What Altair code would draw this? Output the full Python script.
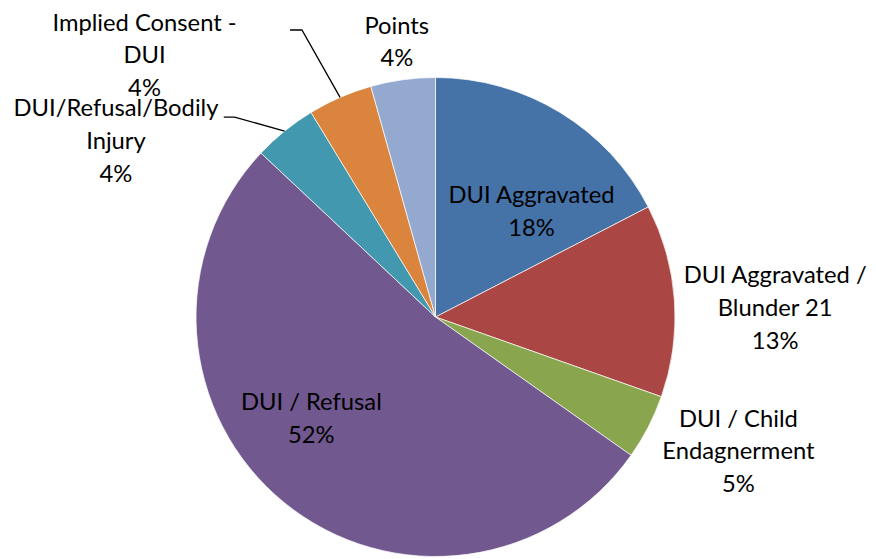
import math
import altair as alt
import pandas as pd

# ---- data ----
categories = [
    "DUI Aggravated",
    "DUI Aggravated /\nBlunder 21",
    "DUI / Child\nEndagnerment",
    "DUI / Refusal",
    "DUI/Refusal/Bodily\nInjury",
    "Implied Consent -\nDUI",
    "Points",
]
shares = [17.4, 13.0, 4.4, 52.2, 4.3, 4.35, 4.35]
pct_labels = ["18%", "13%", "5%", "52%", "4%", "4%", "4%"]
colors = ["#4572A7", "#AA4643", "#89A54E", "#71588F", "#4198AF", "#DB843D", "#93A9CF"]

# ---- layout ----
W, H = 864, 618
R = 242
FONT = "Lato"
FS = 24
LH = 33
# per label: (radius, dx, dy)
label_layout = [
    (150, 19, 6),
    (335, 9, -18),
    (330, 13, -48),
    (162, -23, -38),
    (368, -91, 76),
    (394, -137, 65),
    (280, -1, -16),
]
# leader lines: label index -> (elbow, end) offsets from pie centre
leaders = {
    4: ((-203, -202), (-214, -202)),
    5: ((-135, -290), (-147, -290)),
}

df = pd.DataFrame({"cat": categories, "share": shares, "idx": list(range(len(categories)))})
df["label"] = [c + "\n" + p for c, p in zip(categories, pct_labels)]

theta_scale = alt.Scale(domain=[0, sum(shares)])

arc = alt.Chart(df).mark_arc(outerRadius=R, stroke="white", strokeWidth=0.7).encode(
    theta=alt.Theta("share:Q", stack=True, scale=theta_scale),
    order=alt.Order("idx:Q"),
    color=alt.Color("cat:N", scale=alt.Scale(domain=categories, range=colors), legend=None),
)

texts = []
for i, (r, dx, dy) in enumerate(label_layout):
    t = (
        alt.Chart(df)
        .transform_window(cum="sum(share)", sort=[alt.SortField("idx")], frame=[None, 0])
        .transform_calculate(mid="datum.cum - datum.share / 2")
        .transform_filter(f"datum.idx == {i}")
        .mark_text(
            font=FONT, fontSize=FS, lineBreak="\n", lineHeight=LH,
            align="center", baseline="middle", radius=r, dx=dx, dy=dy, color="black",
        )
        .encode(theta=alt.Theta("mid:Q", stack=False, scale=theta_scale), text="label:N")
    )
    texts.append(t)

# leader lines from slice edge (mid angle) to label
total = sum(shares)
rows = []
cum = 0
for i, s in enumerate(shares):
    mid = (cum + s / 2) / total * 2 * math.pi
    cum += s
    if i in leaders:
        elbow, end = leaders[i]
        pts = [
            (W / 2 + R * math.sin(mid), H / 2 - R * math.cos(mid)),
            (W / 2 + elbow[0], H / 2 + elbow[1]),
            (W / 2 + end[0], H / 2 + end[1]),
        ]
        for o, (x, y) in enumerate(pts):
            rows.append({"seg": i, "o": o, "x": x, "y": y})
lead_df = pd.DataFrame(rows)

lead = alt.Chart(lead_df).mark_line(color="black", strokeWidth=1.3).encode(
    x=alt.X("x:Q", scale=None, axis=None),
    y=alt.Y("y:Q", scale=None, axis=None),
    detail="seg:N",
    order="o:Q",
)

chart = (
    alt.layer(arc, *texts, lead)
    .properties(width=W, height=H, padding=0, background="white")
    .configure_view(stroke=None)
)
chart.save("out.html", embed_options={"renderer": "svg", "actions": False})
